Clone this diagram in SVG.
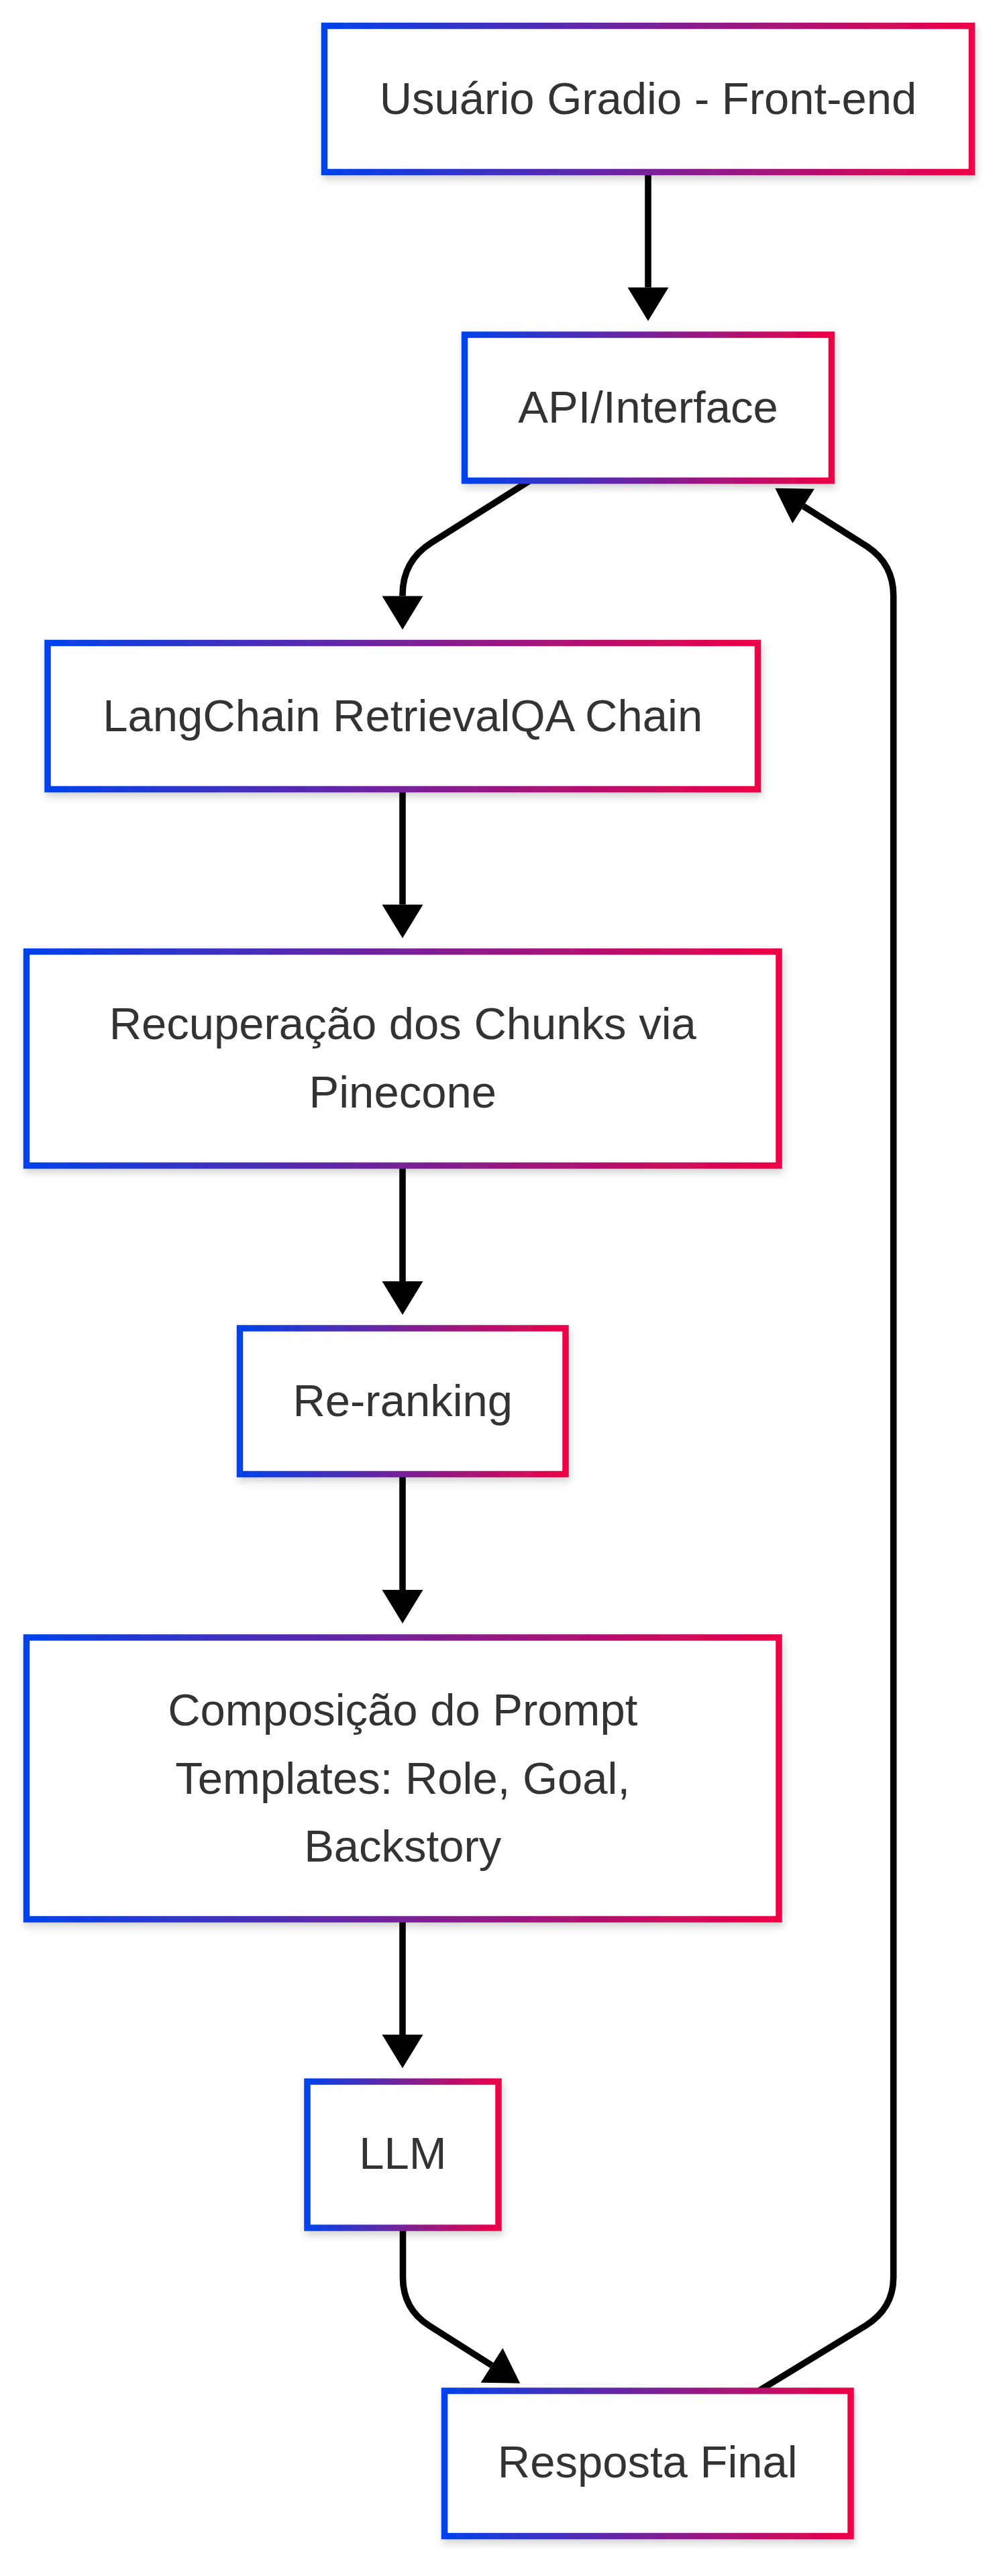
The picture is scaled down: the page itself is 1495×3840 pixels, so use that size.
<svg xmlns="http://www.w3.org/2000/svg" width="1495" height="3840" viewBox="0 0 1495 3840">
  <defs>
    <linearGradient id="grad" x1="0" y1="0" x2="1" y2="0">
      <stop offset="0" stop-color="#0042EB"/>
      <stop offset="1" stop-color="#EE0046"/>
    </linearGradient>
    <filter id="shadow" x="-10%" y="-20%" width="120%" height="150%">
      <feDropShadow dx="2" dy="6" stdDeviation="6" flood-color="#000" flood-opacity="0.18"/>
    </filter>
    <marker id="arrow" markerUnits="userSpaceOnUse" markerWidth="50" markerHeight="61" refX="0" refY="30.5" orient="auto" overflow="visible">
      <path d="M0,0 L50,30.5 L0,61 Z" fill="#000"/>
    </marker>
    <style>
      .node rect { fill: #ffffff; stroke: url(#grad); stroke-width: 9.5; filter: url(#shadow); }
      .node text { font-family: "Liberation Sans", Arial, sans-serif; font-size: 67px; fill: #333333; text-anchor: middle; }
      .edge { fill: none; stroke: #000000; stroke-width: 9.6; marker-end: url(#arrow); }
    </style>
  </defs>
  <rect x="0" y="0" width="1495" height="3840" fill="#ffffff"/>

  <g id="connectors">
    <path class="edge" d="M966,256 L966,428.5"/>
    <path class="edge" d="M800,710 L643,809 Q600,836 600,887 L600,888.5"/>
    <path class="edge" d="M600,1176 L600,1348.5"/>
    <path class="edge" d="M600,1737 L600,1910"/>
    <path class="edge" d="M600,2197 L600,2370"/>
    <path class="edge" d="M600,2861 L600,3033"/>
    <path class="edge" d="M600.5,3321 L600.5,3395 Q600.5,3442 640,3467 L733,3526"/>
    <path class="edge" d="M1131,3564 L1290,3467 Q1331.7,3441 1331.7,3395 L1331.7,888 Q1331.7,841 1293,815 L1197.6,754.6"/>
  </g>

  <g id="node-usuario" class="node">
    <rect x="483.5" y="38.5" width="965" height="218"/>
    <text x="966" y="169.5">Usuário Gradio - Front-end</text>
  </g>
  <g id="node-api" class="node">
    <rect x="692.5" y="499" width="547" height="217.5"/>
    <text x="966" y="629.5">API/Interface</text>
  </g>
  <g id="node-langchain" class="node">
    <rect x="71" y="958.5" width="1058.5" height="218"/>
    <text x="600.25" y="1089.5">LangChain RetrievalQA Chain</text>
  </g>
  <g id="node-recuperacao" class="node">
    <rect x="39.5" y="1418.5" width="1121.5" height="319"/>
    <text x="600.25" y="1549">Recuperação dos Chunks via</text>
    <text x="600.25" y="1651">Pinecone</text>
  </g>
  <g id="node-reranking" class="node">
    <rect x="357.5" y="1980" width="485.5" height="217.5"/>
    <text x="600.25" y="2110.5">Re-ranking</text>
  </g>
  <g id="node-composicao" class="node">
    <rect x="39.5" y="2441" width="1121.5" height="420"/>
    <text x="600.25" y="2572">Composição do Prompt</text>
    <text x="600.25" y="2673.5">Templates: Role, Goal,</text>
    <text x="600.25" y="2775">Backstory</text>
  </g>
  <g id="node-llm" class="node">
    <rect x="458" y="3103" width="285" height="218"/>
    <text x="600.5" y="3233">LLM</text>
  </g>
  <g id="node-resposta" class="node">
    <rect x="662.5" y="3564" width="605.5" height="216.5"/>
    <text x="965.25" y="3693">Resposta Final</text>
  </g>
</svg>
